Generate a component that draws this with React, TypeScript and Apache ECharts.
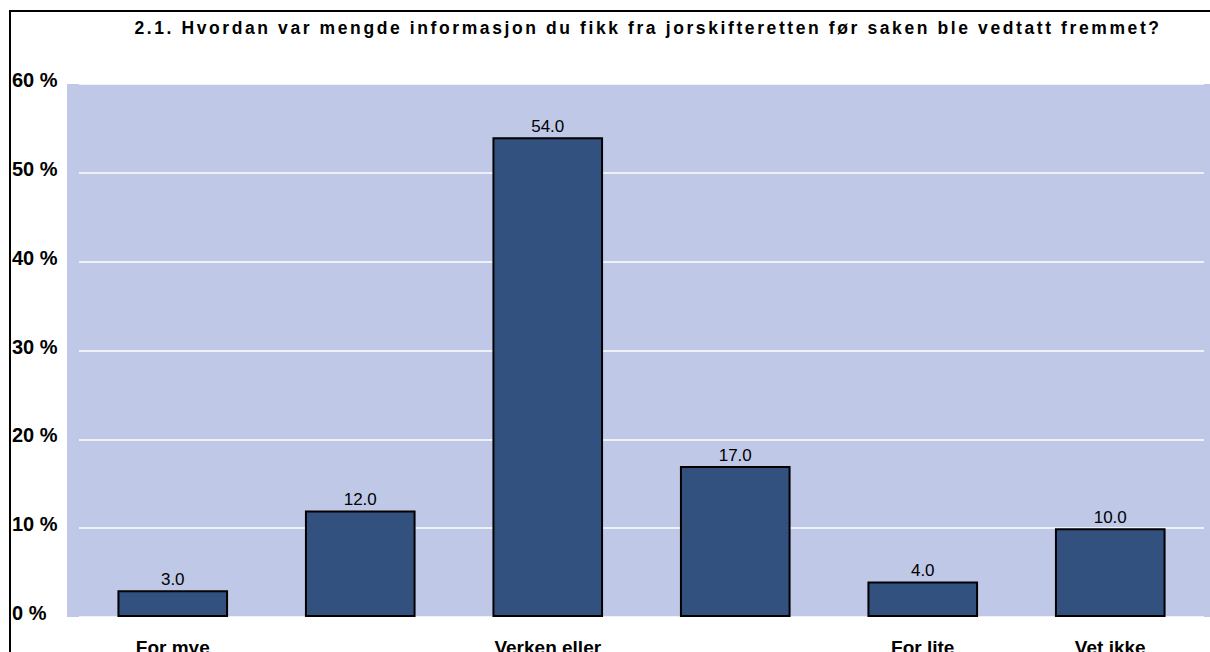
import React, { useEffect, useRef } from "react";
import * as echarts from "echarts";

const titleText =
  "2.1. Hvordan var mengde informasjon du fikk fra jorskifteretten før saken ble vedtatt fremmet?";
const categories = ["For mye", "", "Verken eller", "", "For lite", "Vet ikke"];
const values = [3.0, 12.0, 54.0, 17.0, 4.0, 10.0];
const yTicks = [0, 10, 20, 30, 40, 50, 60];

export default function App() {
  const ref = useRef<HTMLDivElement>(null);
  useEffect(() => {
    if (!ref.current) return;
    const chart = echarts.init(ref.current, undefined, { renderer: "svg", width: 1210, height: 652 });
    const font = "'Liberation Sans', Arial, sans-serif";
    chart.setOption({
      animation: false,
      backgroundColor: "#ffffff",
      title: {
        text: titleText,
        left: 643,
        top: 14,
        textAlign: "center",
        textStyle: { fontFamily: font, fontSize: 17.5, fontWeight: "bold", color: "#000" },
      },
      graphic: [
        {
          type: "rect",
          z: -10,
          silent: true,
          shape: { x: 67, y: 84, width: 1143, height: 533 },
          style: { fill: "#BFC8E6" },
        },
        {
          type: "polyline",
          z: 10,
          silent: true,
          shape: { points: [[10, 660], [10, 11], [1215, 11]] },
          style: { stroke: "#000", lineWidth: 2, fill: "none" },
        },
      ],
      grid: {
        left: 79,
        width: 1125,
        top: 84,
        height: 533,
        containLabel: false,
        outerBoundsMode: "none",
      },
      xAxis: {
        type: "category",
        data: categories,
        axisLine: { show: false },
        axisTick: { show: false },
        axisLabel: {
          interval: 0,
          margin: 21,
          fontFamily: font,
          fontSize: 19,
          fontWeight: "bold",
          color: "#000",
        },
      },
      yAxis: {
        type: "value",
        min: 0,
        max: 60,
        interval: 10,
        axisLine: { show: false },
        axisTick: { show: false },
        splitLine: { show: true, lineStyle: { color: "#ffffff", width: 1.5 } },
        axisLabel: {
          align: "left",
          margin: 67,
          verticalAlign: "bottom",
          lineHeight: 8,
          fontFamily: font,
          fontSize: 20,
          fontWeight: "bold",
          color: "#000",
          formatter: (v: number) => (yTicks.includes(v) ? `${v} %` : ""),
        },
      },
      series: [
        {
          type: "bar",
          data: values,
          barWidth: "59%",
          itemStyle: { color: "#32517F", borderColor: "#000", borderWidth: 2 },
          label: {
            show: true,
            position: "top",
            distance: 2,
            fontFamily: font,
            fontSize: 17,
            color: "#000",
            formatter: (p: any) => Number(p.value).toFixed(1),
          },
        },
      ],
    });
    // Widen the title's letter spacing, as in the reference rendering
    const texts = ref.current.querySelectorAll("text");
    texts.forEach((t) => {
      if (t.textContent === titleText) {
        (t as SVGTextElement).style.letterSpacing = "2.6px";
      }
    });
    return () => chart.dispose();
  }, []);
  return (
    <div
      ref={ref}
      style={{ position: "fixed", left: 0, top: 0, width: 1210, height: 652 }}
    />
  );
}
